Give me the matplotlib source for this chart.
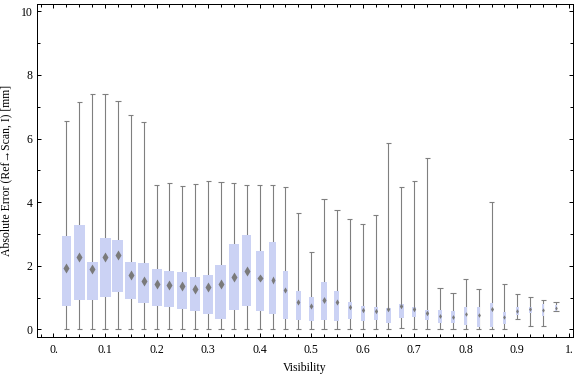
import numpy as np
import matplotlib
matplotlib.use("Agg")
import matplotlib.pyplot as plt
from matplotlib.ticker import FixedLocator, MultipleLocator

plt.rcParams['font.family'] = ['Liberation Serif', 'DejaVu Serif']

# visibility bins
visibility = [0.025, 0.05, 0.075, 0.1, 0.125, 0.15, 0.175, 0.2, 0.225, 0.25,
              0.275, 0.3, 0.325, 0.35, 0.375, 0.4, 0.425, 0.45, 0.475, 0.5,
              0.525, 0.55, 0.575, 0.6, 0.625, 0.65, 0.675, 0.7, 0.725, 0.75,
              0.775, 0.8, 0.825, 0.85, 0.875, 0.9, 0.925, 0.95, 0.975]

whisker_hi = [6.56, 7.14, 7.39, 7.39, 7.17, 6.73, 6.51, 4.53, 4.59, 4.50,
              4.56, 4.66, 4.62, 4.59, 4.53, 4.53, 4.53, 4.47, 3.65, 2.43,
              4.09, 3.74, 3.46, 3.30, 3.59, 5.85, 4.47, 4.66, 5.38, 1.29,
              1.14, 1.58, 1.26, 4.00, 1.42, 1.11, 1.01, 0.92, 0.86]
box_hi = [2.94, 3.28, 2.12, 2.87, 2.81, 2.12, 2.09, 1.90, 1.84, 1.81,
          1.65, 1.71, 2.03, 2.69, 2.97, 2.47, 2.75, 1.84, 1.21, 1.02,
          1.49, 1.21, 0.86, 0.74, 0.71, 0.68, 0.80, 0.71, 0.61, 0.61,
          0.58, 0.71, 0.70, 0.83, 0.55, 0.71, 0.71, 0.80, 0.77]
median = [1.92, 2.27, 1.91, 2.28, 2.34, 1.72, 1.53, 1.42, 1.38, 1.36,
          1.26, 1.33, 1.42, 1.66, 1.82, 1.60, 1.56, 1.23, 0.87, 0.75,
          0.92, 0.85, 0.70, 0.61, 0.59, 0.63, 0.72, 0.63, 0.51, 0.42,
          0.40, 0.47, 0.44, 0.65, 0.40, 0.59, 0.63, 0.61, 0.68]
box_lo = [0.72, 0.91, 0.91, 1.03, 1.16, 0.94, 0.84, 0.75, 0.71, 0.65,
          0.59, 0.47, 0.34, 0.62, 0.75, 0.59, 0.47, 0.34, 0.31, 0.25,
          0.28, 0.25, 0.34, 0.25, 0.28, 0.21, 0.37, 0.40, 0.28, 0.21,
          0.21, 0.15, 0.07, 0.09, 0.18, 0.45, 0.53, 0.42, 0.58]
whisker_lo = [0, 0, 0, 0, 0, 0, 0, 0, 0, 0,
              0, 0, 0, 0, 0, 0, 0, 0, 0, 0,
              0, 0, 0, 0, 0, 0, 0.04, 0, 0, 0,
              0, 0, 0, 0, 0, 0.32, 0.10, 0.10, 0.57]

x_ticks = [0.0, 0.1, 0.2, 0.3, 0.4, 0.5, 0.6, 0.7, 0.8, 0.9, 1.0]
x_labels = ["0.", "0.1", "0.2", "0.3", "0.4", "0.5", "0.6", "0.7", "0.8", "0.9", "1."]

# box widths in pixels as drawn in the chart
box_px = [9.7, 10.7, 11, 11, 11, 11, 10.7, 10, 10, 10,
          10, 10, 11, 10, 9, 8, 7, 5, 5, 5,
          6, 5, 4, 4, 4, 4.3, 4.3, 4.3, 4.3, 3.3,
          3.3, 3, 3, 3.7, 2.7, 3, 3, 2.7, 2.3]

W, H, DPI = 576, 377, 100
fig = plt.figure(figsize=(W / DPI, H / DPI), dpi=DPI)
left, right, bottom, top = 37, 573, 337, 4
ax = fig.add_axes([left / W, 1 - bottom / H, (right - left) / W, (bottom - top) / H])

xmin, xmax = -0.032, 1.008
ymin, ymax = -0.24, 10.23
ax.set_xlim(xmin, xmax)
ax.set_ylim(ymin, ymax)
px = (xmax - xmin) / (right - left)  # data units per pixel in x

grey = "#7f7f7f"
fill = "#cbd2f4"
pt = 72 / DPI

for i, x in enumerate(visibility):
    ax.vlines(x, whisker_lo[i], whisker_hi[i], color=grey, lw=1.1 * pt, zorder=1)
    ax.hlines([whisker_lo[i], whisker_hi[i]], x - 2.6 * px, x + 2.6 * px,
              color=grey, lw=1.1 * pt, zorder=1)
    ax.bar(x, box_hi[i] - box_lo[i], bottom=box_lo[i], width=box_px[i] * px,
           color=fill, edgecolor="none", zorder=2)
    ms = (1.6 + 0.55 * box_px[i]) * pt
    ax.plot(x, median[i], marker="d", ms=ms, color="#7a7a7a", mec="none", zorder=3)

for s in ax.spines.values():
    s.set_linewidth(1.0 * pt)

ax.xaxis.set_major_locator(FixedLocator(x_ticks))
ax.set_xticklabels(x_labels)
ax.xaxis.set_minor_locator(MultipleLocator(0.025))
ax.yaxis.set_major_locator(MultipleLocator(2))
ax.yaxis.set_minor_locator(MultipleLocator(1))
ax.tick_params(which="both", direction="in", top=True, right=True,
               width=1.0 * pt, labelsize=8.5)
ax.tick_params(which="major", length=4 * pt)
ax.tick_params(which="minor", length=3 * pt)
ax.tick_params(axis="x", pad=5)
ax.tick_params(axis="y", pad=3)

ax.set_xlabel("Visibility", fontsize=8.5, labelpad=4)
ax.set_ylabel("Absolute Error (Ref\u2192Scan, I) [mm]", fontsize=8.5, labelpad=6)

fig.savefig("out.png", dpi=DPI)
